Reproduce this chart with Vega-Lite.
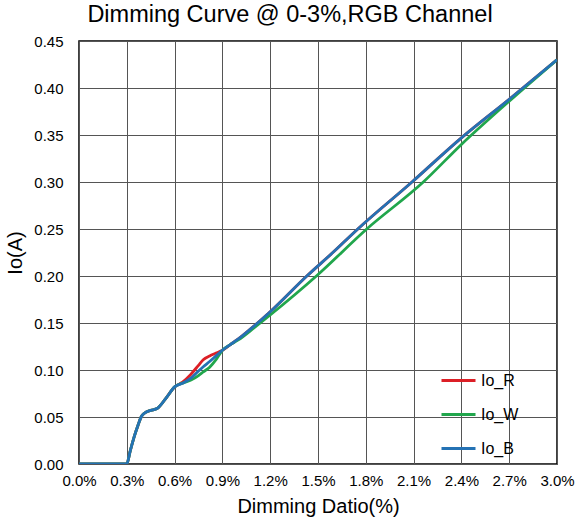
{
  "$schema": "https://vega.github.io/schema/vega-lite/v6.json",
  "autosize": {"type": "none"},
  "width": 478,
  "height": 423,
  "padding": {"left": 79, "top": 41, "right": 20, "bottom": 61},
  "background": "#ffffff",
  "title": {
    "text": "Dimming Curve @ 0-3%,RGB Channel",
    "font": "Liberation Sans",
    "fontSize": 23.5,
    "fontWeight": "normal",
    "color": "#000000",
    "anchor": "middle",
    "dx": -28,
    "offset": 8
  },
  "config": {
    "view": {"stroke": "#000000", "strokeWidth": 1.5},
    "axis": {
      "labelFont": "Liberation Sans",
      "titleFont": "Liberation Sans",
      "labelColor": "#000000",
      "titleColor": "#000000",
      "titleFontWeight": "normal",
      "domain": false,
      "ticks": false,
      "gridColor": "#555555",
      "gridOpacity": 1,
      "gridWidth": 1
    }
  },
  "data": {
    "values": [
      {"x": 0.00, "y": 0.000, "s": "Io_R"},
      {"x": 0.10, "y": 0.000, "s": "Io_R"},
      {"x": 0.20, "y": 0.000, "s": "Io_R"},
      {"x": 0.27, "y": 0.000, "s": "Io_R"},
      {"x": 0.30, "y": 0.000, "s": "Io_R"},
      {"x": 0.32, "y": 0.013, "s": "Io_R"},
      {"x": 0.35, "y": 0.031, "s": "Io_R"},
      {"x": 0.37, "y": 0.041, "s": "Io_R"},
      {"x": 0.39, "y": 0.050, "s": "Io_R"},
      {"x": 0.41, "y": 0.054, "s": "Io_R"},
      {"x": 0.45, "y": 0.057, "s": "Io_R"},
      {"x": 0.49, "y": 0.059, "s": "Io_R"},
      {"x": 0.55, "y": 0.071, "s": "Io_R"},
      {"x": 0.60, "y": 0.082, "s": "Io_R"},
      {"x": 0.65, "y": 0.087, "s": "Io_R"},
      {"x": 0.70, "y": 0.095, "s": "Io_R"},
      {"x": 0.75, "y": 0.105, "s": "Io_R"},
      {"x": 0.78, "y": 0.111, "s": "Io_R"},
      {"x": 0.82, "y": 0.115, "s": "Io_R"},
      {"x": 0.86, "y": 0.118, "s": "Io_R"},
      {"x": 0.90, "y": 0.121, "s": "Io_R"},
      {"x": 0.95, "y": 0.127, "s": "Io_R"},
      {"x": 1.00, "y": 0.133, "s": "Io_R"},
      {"x": 1.10, "y": 0.147, "s": "Io_R"},
      {"x": 1.20, "y": 0.162, "s": "Io_R"},
      {"x": 1.43, "y": 0.200, "s": "Io_R"},
      {"x": 1.60, "y": 0.226, "s": "Io_R"},
      {"x": 1.75, "y": 0.250, "s": "Io_R"},
      {"x": 2.09, "y": 0.300, "s": "Io_R"},
      {"x": 2.40, "y": 0.347, "s": "Io_R"},
      {"x": 2.70, "y": 0.388, "s": "Io_R"},
      {"x": 3.00, "y": 0.430, "s": "Io_R"},

      {"x": 0.00, "y": 0.000, "s": "Io_W"},
      {"x": 0.10, "y": 0.000, "s": "Io_W"},
      {"x": 0.20, "y": 0.000, "s": "Io_W"},
      {"x": 0.27, "y": 0.000, "s": "Io_W"},
      {"x": 0.30, "y": 0.000, "s": "Io_W"},
      {"x": 0.32, "y": 0.013, "s": "Io_W"},
      {"x": 0.35, "y": 0.031, "s": "Io_W"},
      {"x": 0.37, "y": 0.041, "s": "Io_W"},
      {"x": 0.39, "y": 0.050, "s": "Io_W"},
      {"x": 0.41, "y": 0.054, "s": "Io_W"},
      {"x": 0.45, "y": 0.057, "s": "Io_W"},
      {"x": 0.49, "y": 0.059, "s": "Io_W"},
      {"x": 0.55, "y": 0.071, "s": "Io_W"},
      {"x": 0.60, "y": 0.082, "s": "Io_W"},
      {"x": 0.65, "y": 0.086, "s": "Io_W"},
      {"x": 0.70, "y": 0.089, "s": "Io_W"},
      {"x": 0.75, "y": 0.094, "s": "Io_W"},
      {"x": 0.78, "y": 0.098, "s": "Io_W"},
      {"x": 0.82, "y": 0.103, "s": "Io_W"},
      {"x": 0.86, "y": 0.111, "s": "Io_W"},
      {"x": 0.90, "y": 0.121, "s": "Io_W"},
      {"x": 0.95, "y": 0.127, "s": "Io_W"},
      {"x": 1.00, "y": 0.132, "s": "Io_W"},
      {"x": 1.10, "y": 0.145, "s": "Io_W"},
      {"x": 1.20, "y": 0.1585, "s": "Io_W"},
      {"x": 1.49, "y": 0.200, "s": "Io_W"},
      {"x": 1.806, "y": 0.250, "s": "Io_W"},
      {"x": 2.161, "y": 0.300, "s": "Io_W"},
      {"x": 2.40, "y": 0.340, "s": "Io_W"},
      {"x": 2.70, "y": 0.386, "s": "Io_W"},
      {"x": 3.00, "y": 0.430, "s": "Io_W"},

      {"x": 0.00, "y": 0.000, "s": "Io_B"},
      {"x": 0.10, "y": 0.000, "s": "Io_B"},
      {"x": 0.20, "y": 0.000, "s": "Io_B"},
      {"x": 0.27, "y": 0.000, "s": "Io_B"},
      {"x": 0.30, "y": 0.000, "s": "Io_B"},
      {"x": 0.32, "y": 0.013, "s": "Io_B"},
      {"x": 0.35, "y": 0.031, "s": "Io_B"},
      {"x": 0.37, "y": 0.041, "s": "Io_B"},
      {"x": 0.39, "y": 0.050, "s": "Io_B"},
      {"x": 0.41, "y": 0.054, "s": "Io_B"},
      {"x": 0.45, "y": 0.057, "s": "Io_B"},
      {"x": 0.49, "y": 0.059, "s": "Io_B"},
      {"x": 0.55, "y": 0.071, "s": "Io_B"},
      {"x": 0.60, "y": 0.082, "s": "Io_B"},
      {"x": 0.65, "y": 0.086, "s": "Io_B"},
      {"x": 0.70, "y": 0.091, "s": "Io_B"},
      {"x": 0.75, "y": 0.099, "s": "Io_B"},
      {"x": 0.78, "y": 0.1035, "s": "Io_B"},
      {"x": 0.82, "y": 0.109, "s": "Io_B"},
      {"x": 0.86, "y": 0.115, "s": "Io_B"},
      {"x": 0.90, "y": 0.121, "s": "Io_B"},
      {"x": 0.95, "y": 0.127, "s": "Io_B"},
      {"x": 1.00, "y": 0.133, "s": "Io_B"},
      {"x": 1.10, "y": 0.147, "s": "Io_B"},
      {"x": 1.20, "y": 0.162, "s": "Io_B"},
      {"x": 1.43, "y": 0.200, "s": "Io_B"},
      {"x": 1.60, "y": 0.226, "s": "Io_B"},
      {"x": 1.75, "y": 0.250, "s": "Io_B"},
      {"x": 2.09, "y": 0.300, "s": "Io_B"},
      {"x": 2.40, "y": 0.347, "s": "Io_B"},
      {"x": 2.70, "y": 0.388, "s": "Io_B"},
      {"x": 3.00, "y": 0.430, "s": "Io_B"}
    ]
  },
  "mark": {"type": "line", "interpolate": "monotone", "strokeWidth": 2.8, "clip": true},
  "encoding": {
    "x": {
      "field": "x",
      "type": "quantitative",
      "scale": {"domain": [0, 3], "nice": false, "zero": false},
      "axis": {
        "title": "Dimming Datio(%)",
        "titleFontSize": 20,
        "titlePadding": 8,
        "labelFontSize": 15,
        "labelPadding": 9,
        "values": [0, 0.3, 0.6, 0.9, 1.2, 1.5, 1.8, 2.1, 2.4, 2.7, 3.0],
        "labelExpr": "format(datum.value, '.1f') + '%'",
        "labelFlush": false,
        "labelOverlap": false
      }
    },
    "y": {
      "field": "y",
      "type": "quantitative",
      "scale": {"domain": [0, 0.45], "nice": false},
      "axis": {
        "title": "Io(A)",
        "titleFontSize": 20,
        "titlePadding": 8,
        "labelFontSize": 15,
        "labelPadding": 16,
        "values": [0, 0.05, 0.1, 0.15, 0.2, 0.25, 0.3, 0.35, 0.4, 0.45],
        "format": ".2f",
        "labelFlush": false,
        "labelOverlap": false
      }
    },
    "color": {
      "field": "s",
      "type": "nominal",
      "sort": null,
      "scale": {"domain": ["Io_R", "Io_W", "Io_B"], "range": ["#dc1f26", "#21a64c", "#2472b4"]},
      "legend": {
        "title": null,
        "orient": "none",
        "legendX": 361,
        "legendY": 321,
        "padding": 0,
        "symbolType": "stroke",
        "symbolSize": 1156,
        "symbolStrokeWidth": 3,
        "labelFont": "Liberation Sans",
        "labelFontSize": 16,
        "labelColor": "#000000",
        "labelOffset": 4,
        "rowPadding": 7
      }
    }
  }
}
